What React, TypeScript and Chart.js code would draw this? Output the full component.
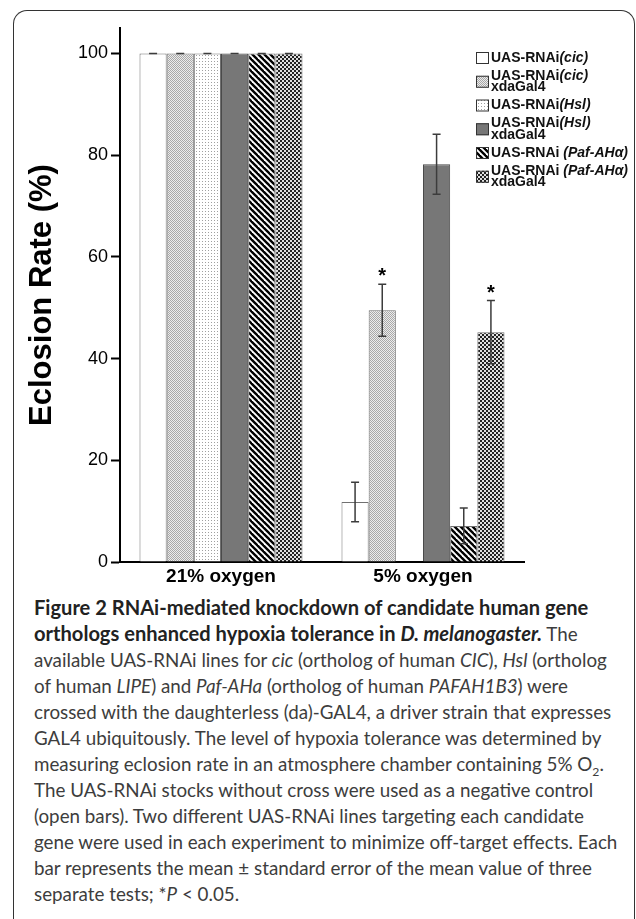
import React, { useEffect, useRef } from 'react';
import { Chart, registerables } from 'chart.js';

Chart.register(...registerables);

// ---------- data ----------
const categories = ['21% oxygen', '5% oxygen'];
const seriesLabels = [
  'UAS-RNAi(cic)',
  'UAS-RNAi(cic) xdaGal4',
  'UAS-RNAi(Hsl)',
  'UAS-RNAi(Hsl) xdaGal4',
  'UAS-RNAi (Paf-AHα)',
  'UAS-RNAi (Paf-AHα) xdaGal4',
];
const values21 = [100, 100, 100, 100, 100, 100];
const errors21 = [0, 0, 0, 0, 0, 0];
const signif21 = [false, false, false, false, false, false];
const values5 = [11.8, 49.5, 0, 78.2, 7.1, 45.2];
const errors5 = [3.9, 5.1, 0, 5.9, 3.5, 6.2];
const signif5 = [false, true, false, false, false, true];
const yTicks = [0, 20, 40, 60, 80, 100];
const yMax = 105;
const yTitle = 'Eclosion Rate (%)';
const fillKinds = ['open', 'stipple', 'dots', 'solid', 'diag', 'check'];

const FONT = '"Liberation Sans", Arial, Helvetica, sans-serif';

function makeFill(kind: string): any {
  if (kind === 'open') return '#ffffff';
  if (kind === 'solid') return '#777777';
  const c = document.createElement('canvas');
  const x = c.getContext('2d')!;
  if (kind === 'stipple') {
    c.width = 2; c.height = 2;
    x.fillStyle = '#ececec'; x.fillRect(0, 0, 2, 2);
    x.fillStyle = '#a8a8a8'; x.fillRect(0, 0, 1, 1); x.fillRect(1, 1, 1, 1);
  } else if (kind === 'dots') {
    c.width = 3; c.height = 3;
    x.fillStyle = '#ffffff'; x.fillRect(0, 0, 3, 3);
    x.fillStyle = '#a0a0a0'; x.fillRect(1, 1, 1, 1);
  } else if (kind === 'diag') {
    c.width = 6; c.height = 6;
    x.fillStyle = '#ffffff'; x.fillRect(0, 0, 6, 6);
    x.strokeStyle = '#000000'; x.lineWidth = 2.4;
    for (let k = -1; k <= 1; k++) {
      x.beginPath(); x.moveTo(k * 6 - 1, -1); x.lineTo(k * 6 + 7, 7); x.stroke();
    }
  } else if (kind === 'check') {
    c.width = 4; c.height = 4;
    x.fillStyle = '#e0e0e0'; x.fillRect(0, 0, 4, 4);
    x.fillStyle = '#222222'; x.fillRect(0, 0, 2, 2); x.fillRect(2, 2, 2, 2);
  }
  return x.createPattern(c, 'repeat');
}

const borderFor = (kind: string) => (kind === 'solid' ? '#4a4a4a' : '#707070');

const errorBarPlugin = {
  id: 'errorBars',
  afterDatasetsDraw(chart: any) {
    const ctx = chart.ctx;
    const ys = chart.scales.y;
    ctx.save();
    chart.data.datasets.forEach((ds: any, i: number) => {
      const meta = chart.getDatasetMeta(i);
      meta.data.forEach((bar: any, j: number) => {
        const v = ds.data[j];
        if (!v) return;
        const e = ds.errors[j];
        const x = bar.x;
        const yt = ys.getPixelForValue(v + e);
        const yb = ys.getPixelForValue(v - e);
        ctx.strokeStyle = '#3c3c3c';
        ctx.lineWidth = 1.5;
        ctx.beginPath();
        ctx.moveTo(x, yt); ctx.lineTo(x, yb);
        ctx.moveTo(x - 4, yt); ctx.lineTo(x + 4, yt);
        ctx.moveTo(x - 4, yb); ctx.lineTo(x + 4, yb);
        ctx.stroke();
        if (ds.sig[j]) {
          ctx.fillStyle = '#000';
          ctx.font = `bold 20px ${FONT}`;
          ctx.textAlign = 'center';
          ctx.textBaseline = 'alphabetic';
          ctx.fillText('*', x, yt - 2);
        }
      });
    });
    ctx.restore();
  },
};

function parseLabel(label: string) {
  const m = label.match(/^(.*?)(\(.*?\))(?:\s+(.*))?$/);
  if (!m) return [[{ t: label, it: false }]];
  const lines: any[] = [[{ t: m[1], it: false }, { t: m[2], it: true }]];
  if (m[3]) lines.push([{ t: m[3], it: false }]);
  return lines;
}

const legendPlugin = {
  id: 'patternLegend',
  afterDraw(chart: any) {
    const ctx = chart.ctx;
    const boxX = 476;
    const textX = 491;
    const lineH = 11.5;
    const gap = 18;
    let y = 58;
    ctx.save();
    ctx.textBaseline = 'middle';
    ctx.textAlign = 'left';
    chart.data.datasets.forEach((ds: any) => {
      const lines = parseLabel(ds.label);
      const mid = y + ((lines.length - 1) * lineH) / 2;
      ctx.fillStyle = ds.backgroundColor;
      ctx.fillRect(boxX, mid - 6, 13, 12);
      ctx.strokeStyle = '#333';
      ctx.lineWidth = 1;
      ctx.strokeRect(boxX + 0.5, mid - 5.5, 12, 11);
      lines.forEach((segs: any[], k: number) => {
        let x = textX;
        segs.forEach((s) => {
          ctx.font = `${s.it ? 'italic ' : ''}bold 14px ${FONT}`;
          ctx.fillStyle = '#111';
          ctx.fillText(s.t, x, y + k * lineH);
          x += ctx.measureText(s.t).width;
        });
      });
      y += (lines.length - 1) * lineH + gap;
    });
    ctx.restore();
  },
};

function ChartCanvas() {
  const ref = useRef<HTMLCanvasElement>(null);
  useEffect(() => {
    const canvas = ref.current!;
    const datasets = seriesLabels.map((label, i) => ({
      label,
      data: [values21[i], values5[i]],
      errors: [errors21[i], errors5[i]],
      sig: [signif21[i], signif5[i]],
      backgroundColor: makeFill(fillKinds[i]),
      borderColor: borderFor(fillKinds[i]),
      borderWidth: 1,
      categoryPercentage: 0.807,
      barPercentage: 1,
    }));
    const chart = new Chart(canvas, {
      type: 'bar',
      data: { labels: categories, datasets: datasets as any },
      options: {
        animation: false,
        responsive: false,
        devicePixelRatio: 1,
        layout: { padding: { left: 0, right: 112, top: 28, bottom: 0 } },
        plugins: { legend: { display: false }, tooltip: { enabled: false } },
        scales: {
          x: {
            grid: { display: false, drawTicks: false },
            border: { display: true, color: '#000', width: 2 },
            ticks: {
              font: { family: FONT, size: 19, weight: 'bold' },
              color: '#000',
              padding: 3,
              maxRotation: 0,
            },
            afterFit: (s: any) => { s.height = 28; },
          },
          y: {
            min: 0,
            max: yMax,
            afterBuildTicks: (a: any) => { a.ticks = yTicks.map((v) => ({ value: v })); },
            grid: { drawOnChartArea: false, drawTicks: true, tickLength: 9, tickWidth: 2, tickColor: '#000' },
            border: { display: true, color: '#000', width: 2 },
            ticks: { font: { family: FONT, size: 18 }, color: '#000', padding: 3 },
            title: {
              display: true,
              text: yTitle,
              font: { family: FONT, size: 31, weight: 'bold', lineHeight: 1.2 },
              color: '#000',
              padding: { top: 24, bottom: 0 },
            },
            afterFit: (s: any) => { s.width = 120; },
          },
        },
      } as any,
      plugins: [errorBarPlugin, legendPlugin],
    });
    return () => chart.destroy();
  }, []);
  return (
    <canvas
      ref={ref}
      width={636}
      height={590}
      style={{ position: 'absolute', left: 0, top: 0, width: 636, height: 590 }}
    />
  );
}

export default function App() {
  const title = { color: '#222', fontWeight: 700, fontSize: 20.1 };
  return (
    <div style={{ position: 'absolute', left: 0, top: 0, width: 636, height: 919, overflow: 'hidden', background: '#fff' }}>
      <div
        style={{
          position: 'absolute', left: 13, top: 10, width: 622, height: 930,
          border: '1.5px solid #333', borderBottom: 'none', borderRadius: '14px 14px 0 0', boxSizing: 'border-box',
        }}
      />
      <ChartCanvas />
      <div
        style={{
          position: 'absolute', left: 34, top: 594, fontFamily: 'Lato, "Open Sans", sans-serif', fontSize: 18.8,
          lineHeight: '26px', color: '#3d3d3d', whiteSpace: 'nowrap',
        }}
      >
        <div style={title}>Figure 2 RNAi-mediated knockdown of candidate human gene</div>
        <div>
          <span style={title}>orthologs enhanced hypoxia tolerance in <i>D. melanogaster.</i></span>
          <span> The</span>
        </div>
        <div>available UAS-RNAi lines for <i>cic</i> (ortholog of human <i>CIC</i>), <i>Hsl</i> (ortholog</div>
        <div>of human <i>LIPE</i>) and <i>Paf-AHa</i> (ortholog of human <i>PAFAH1B3</i>) were</div>
        <div>crossed with the daughterless (da)-GAL4, a driver strain that expresses</div>
        <div>GAL4 ubiquitously. The level of hypoxia tolerance was determined by</div>
        <div>measuring eclosion rate in an atmosphere chamber containing 5% O<sub style={{ fontSize: '0.65em', lineHeight: 0 }}>2</sub>.</div>
        <div>The UAS-RNAi stocks without cross were used as a negative control</div>
        <div>(open bars). Two different UAS-RNAi lines targeting each candidate</div>
        <div>gene were used in each experiment to minimize off-target effects. Each</div>
        <div>bar represents the mean ± standard error of the mean value of three</div>
        <div>separate tests; *<i>P</i> &lt; 0.05.</div>
      </div>
    </div>
  );
}
